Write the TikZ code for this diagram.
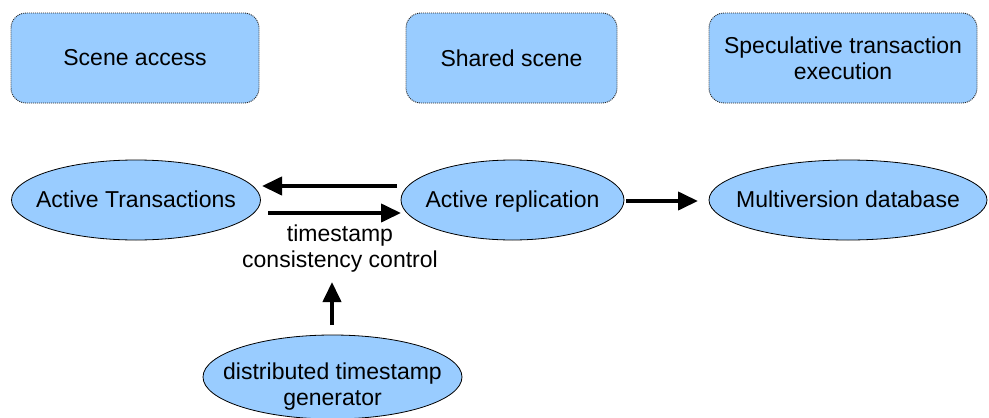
\documentclass[tikz,border=0pt]{standalone}
\usepackage{fontspec}
\setmainfont{Liberation Sans}
\usetikzlibrary{shapes.geometric,arrows.meta}
\definecolor{boxblue}{HTML}{99CCFF}
\begin{document}
\begin{tikzpicture}[x=1pt,y=-1pt,
  topbox/.style={draw=black!85,line width=0.9pt,dash pattern=on 1pt off 1pt,fill=boxblue,rounded corners=15pt,minimum height=90pt,align=center,font=\fontsize{23}{26}\selectfont,inner sep=0pt},
  ell/.style={ellipse,draw=black,line width=0.8pt,fill=boxblue,minimum height=80pt,inner sep=0pt},
  bigarrow/.style={line width=4pt,-{Triangle[length=20pt,width=18pt]}},
  lbl/.style={align=center,font=\fontsize{23}{26}\selectfont,inner sep=0pt},
  ellbl/.style={lbl,yshift=-2.5pt}]
\useasboundingbox (0,0) rectangle (989,418);
\node[topbox,minimum width=248pt] (sa) at (135,58) {Scene access};
\node[topbox,minimum width=211pt] (ss) at (511.5,58) {Shared scene};
\node[topbox,minimum width=268pt] (st) at (843,58) {Speculative transaction\\execution};
\node[ell,minimum width=249pt,label={[ellbl,name=atl]center:\strut Active Transactions}] (at) at (136,200) {};
\node[ell,minimum width=223pt,label={[ellbl,name=arl]center:\strut Active replication}] (ar) at (512.5,200) {};
\node[ell,minimum width=278pt,label={[ellbl,name=mvl]center:\strut Multiversion database}] (mv) at (848,200) {};
\node[ell,minimum width=259pt,minimum height=84pt,label={[lbl,name=dgl,yshift=-10pt]center:distributed timestamp\\generator}] (dg) at (332.5,377) {};
\node[lbl] (tc) at (340,249) {timestamp\\consistency control};
\coordinate (a1s) at (397,186); \coordinate (a1e) at (262,186);
\coordinate (a2s) at (268,213); \coordinate (a2e) at (401,213);
\coordinate (a3s) at (626,201); \coordinate (a3e) at (698,201);
\coordinate (a4s) at (332,325); \coordinate (a4e) at (332,282);
\draw[bigarrow] (a1s) -- (a1e);
\draw[bigarrow] (a2s) -- (a2e);
\draw[bigarrow] (a3s) -- (a3e);
\draw[bigarrow] (a4s) -- (a4e);
\end{tikzpicture}
\end{document}
